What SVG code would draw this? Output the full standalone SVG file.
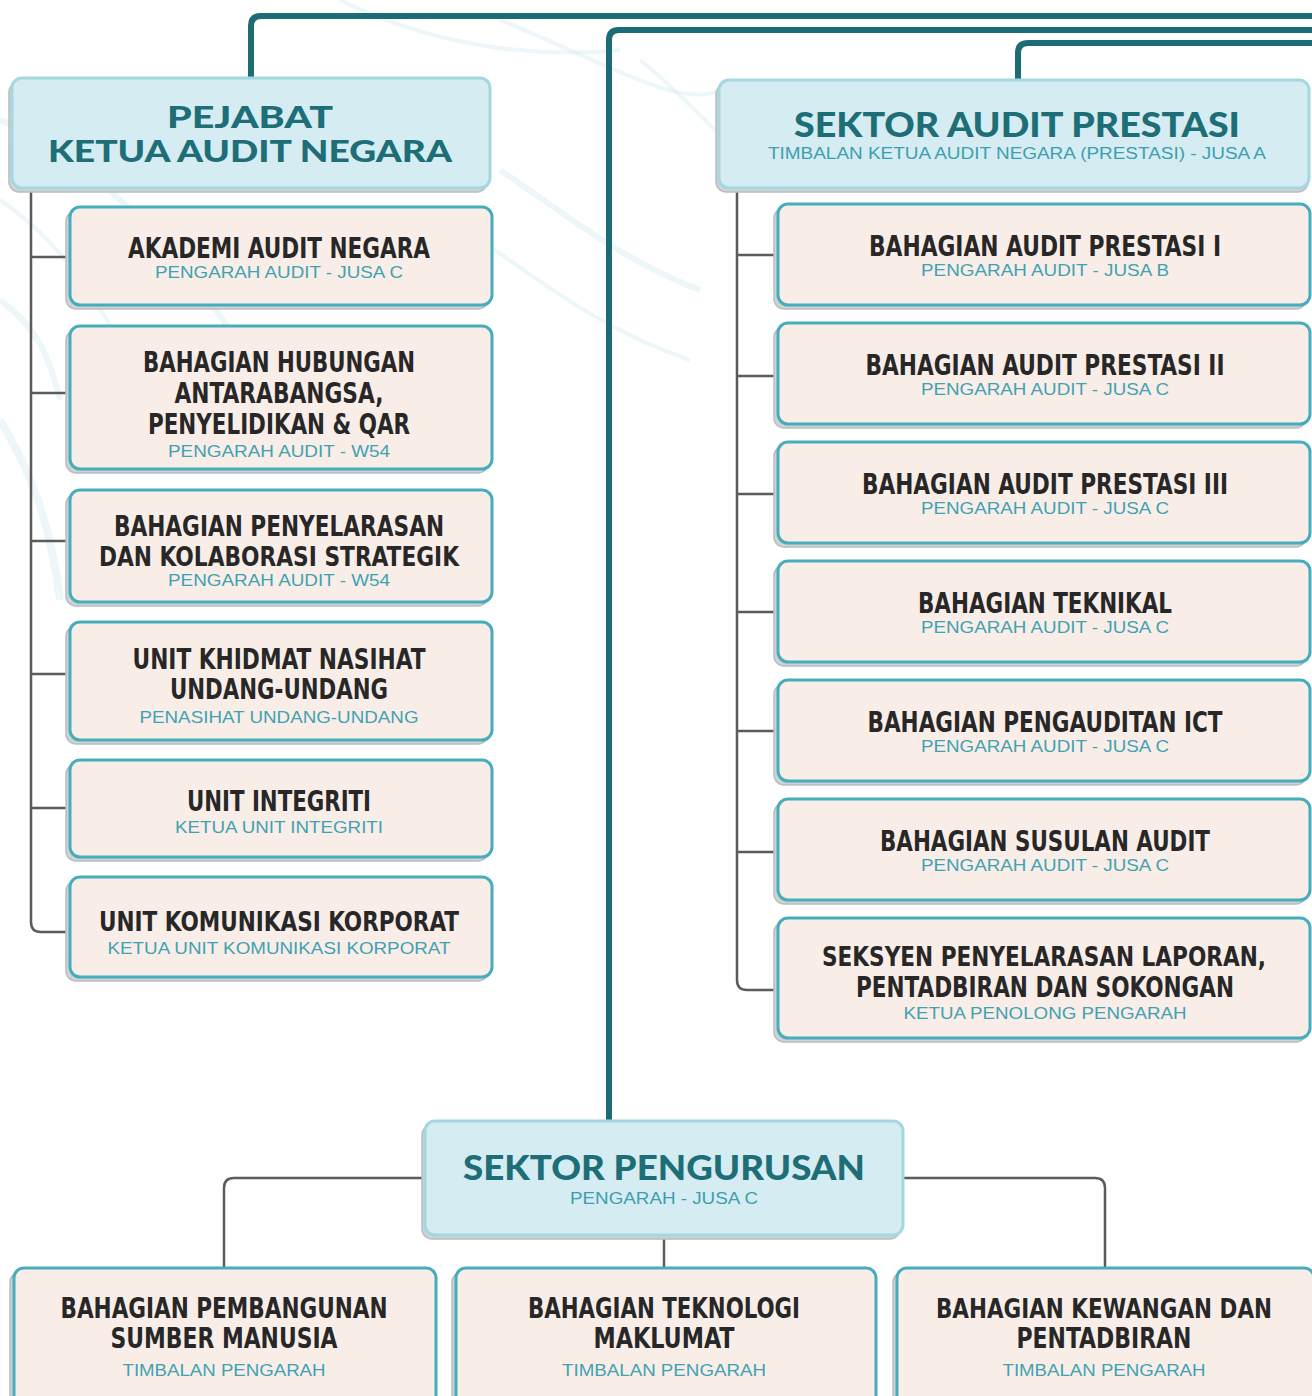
<svg xmlns="http://www.w3.org/2000/svg" width="1312" height="1396" viewBox="0 0 1312 1396">
<defs>
<style>
.main{fill:none;stroke:#1b6c74;stroke-width:6;stroke-linecap:butt}
.sub{fill:none;stroke:#5c5a5a;stroke-width:2.5}
.shadow{fill:#cfd3d4;stroke:#b9bdbe;stroke-width:1.5}
.hbox{fill:#d5ecf2;stroke:#a4d7e0;stroke-width:3}
.box{fill:#f9ede8;stroke:#45adbb;stroke-width:3}
.ht{font-family:"Lato","Open Sans","Liberation Sans",sans-serif;font-weight:900;fill:#1d6e77;text-anchor:middle}
.hs{font-family:"Liberation Sans","Noto Sans",sans-serif;font-size:16px;fill:#3d9fae;text-anchor:middle}
.t{font-family:"Liberation Sans Narrow","DejaVu Sans Condensed","Liberation Sans",sans-serif;font-weight:bold;font-size:28px;fill:#272727;text-anchor:middle}
.tl{font-size:26px}
.s{font-family:"Liberation Sans","Noto Sans",sans-serif;font-size:17px;fill:#3fa2b2;text-anchor:middle}
.wisp{fill:none;stroke:#d7ebf1;stroke-opacity:0.45}
</style>
</defs>
<rect width="1312" height="1396" fill="#ffffff"/>
<g id="background">
<path class="wisp" stroke-width="6" d="M0,120 C80,150 160,230 230,330"/>
<path class="wisp" stroke-width="4" d="M0,200 C60,240 120,320 150,420"/>
<path class="wisp" stroke-width="8" d="M0,420 C30,470 50,520 60,600"/>
<path class="wisp" stroke-width="4" d="M340,0 C420,40 520,60 620,50"/>
<path class="wisp" stroke-width="6" d="M500,170 C560,210 620,260 700,290"/>
<path class="wisp" stroke-width="4" d="M480,240 C540,280 600,330 690,360"/>
<path class="wisp" stroke-width="4" d="M640,60 C690,100 720,140 760,170"/>
<path class="wisp" stroke-width="6" d="M0,300 C40,330 50,360 60,400"/>
<path class="wisp" stroke-width="4" d="M500,20 C600,60 680,110 720,90"/>
</g>
<g id="connectors">
<path class="main" d="M251,78 V26 Q251,16 261,16 H1312"/>
<path class="main" d="M609,1121 V40 Q609,30 619,30 H1312"/>
<path class="main" d="M1018,80 V53 Q1018,43 1028,43 H1312"/>
<path class="sub" d="M31,188 V922 Q31,932 41,932 H70"/>
<path class="sub" d="M31,257 H70 M31,393 H70 M31,541 H70 M31,674 H70 M31,808 H70"/>
<path class="sub" d="M737,188 V980 Q737,990 747,990 H778"/>
<path class="sub" d="M737,255 H778 M737,376 H778 M737,494 H778 M737,612 H778 M737,731 H778 M737,852 H778"/>
<path class="sub" d="M425,1178 H234 Q224,1178 224,1188 V1268"/>
<path class="sub" d="M903,1178 H1095 Q1105,1178 1105,1188 V1268"/>
<path class="sub" d="M664,1237 V1268"/>
</g>
<g id="pejabat">
<rect class="shadow" x="9" y="82" width="478" height="110" rx="10"/>
<rect class="hbox" x="12" y="78" width="478" height="110" rx="10"/>
<text class="ht" x="250" y="128" font-size="30" textLength="166" lengthAdjust="spacingAndGlyphs">PEJABAT</text>
<text class="ht" x="250" y="162" font-size="30" textLength="404" lengthAdjust="spacingAndGlyphs">KETUA AUDIT NEGARA</text>
</g>
<g id="akademi">
<rect class="shadow" x="66" y="211" width="422" height="98" rx="10"/>
<rect class="box" x="70" y="207" width="422" height="98" rx="10"/>
<text class="t" x="279" y="258" textLength="302" lengthAdjust="spacingAndGlyphs">AKADEMI AUDIT NEGARA</text>
<text class="s" x="279" y="278" textLength="248" lengthAdjust="spacingAndGlyphs">PENGARAH AUDIT - JUSA C</text>
</g>
<g id="hubungan">
<rect class="shadow" x="66" y="330" width="422" height="143" rx="10"/>
<rect class="box" x="70" y="326" width="422" height="143" rx="10"/>
<text class="t" x="279" y="372" textLength="272" lengthAdjust="spacingAndGlyphs">BAHAGIAN HUBUNGAN</text>
<text class="t" x="279" y="403" textLength="209" lengthAdjust="spacingAndGlyphs">ANTARABANGSA,</text>
<text class="t" x="279" y="434" textLength="262" lengthAdjust="spacingAndGlyphs">PENYELIDIKAN &amp; QAR</text>
<text class="s" x="279" y="457" textLength="222" lengthAdjust="spacingAndGlyphs">PENGARAH AUDIT - W54</text>
</g>
<g id="penyelarasan">
<rect class="shadow" x="66" y="494" width="422" height="112" rx="10"/>
<rect class="box" x="70" y="490" width="422" height="112" rx="10"/>
<text class="t" x="279" y="536" textLength="330" lengthAdjust="spacingAndGlyphs">BAHAGIAN PENYELARASAN</text>
<text class="t tl" x="279" y="566" textLength="360" lengthAdjust="spacingAndGlyphs">DAN KOLABORASI STRATEGIK</text>
<text class="s" x="279" y="586" textLength="222" lengthAdjust="spacingAndGlyphs">PENGARAH AUDIT - W54</text>
</g>
<g id="khidmat">
<rect class="shadow" x="66" y="626" width="422" height="118" rx="10"/>
<rect class="box" x="70" y="622" width="422" height="118" rx="10"/>
<text class="t" x="279" y="669" textLength="293" lengthAdjust="spacingAndGlyphs">UNIT KHIDMAT NASIHAT</text>
<text class="t" x="279" y="699" textLength="218" lengthAdjust="spacingAndGlyphs">UNDANG-UNDANG</text>
<text class="s" x="279" y="723" textLength="279" lengthAdjust="spacingAndGlyphs">PENASIHAT UNDANG-UNDANG</text>
</g>
<g id="integriti">
<rect class="shadow" x="66" y="764" width="422" height="97" rx="10"/>
<rect class="box" x="70" y="760" width="422" height="97" rx="10"/>
<text class="t" x="279" y="811" textLength="184" lengthAdjust="spacingAndGlyphs">UNIT INTEGRITI</text>
<text class="s" x="279" y="833" textLength="208" lengthAdjust="spacingAndGlyphs">KETUA UNIT INTEGRITI</text>
</g>
<g id="komunikasi">
<rect class="shadow" x="66" y="881" width="422" height="100" rx="10"/>
<rect class="box" x="70" y="877" width="422" height="100" rx="10"/>
<text class="t tl" x="279" y="931" textLength="360" lengthAdjust="spacingAndGlyphs">UNIT KOMUNIKASI KORPORAT</text>
<text class="s" x="279" y="954" textLength="343" lengthAdjust="spacingAndGlyphs">KETUA UNIT KOMUNIKASI KORPORAT</text>
</g>
<g id="sektor-audit-prestasi">
<rect class="shadow" x="716" y="84" width="592" height="108" rx="10"/>
<rect class="hbox" x="719" y="80" width="590" height="108" rx="10"/>
<text class="ht" x="1017" y="137" font-size="34" textLength="446" lengthAdjust="spacingAndGlyphs">SEKTOR AUDIT PRESTASI</text>
<text class="hs" x="1017" y="159" textLength="498" lengthAdjust="spacingAndGlyphs">TIMBALAN KETUA AUDIT NEGARA (PRESTASI) - JUSA A</text>
</g>
<g id="ap1">
<rect class="shadow" x="774" y="208" width="532" height="101" rx="10"/>
<rect class="box" x="778" y="204" width="532" height="101" rx="10"/>
<text class="t" x="1045" y="256" textLength="352" lengthAdjust="spacingAndGlyphs">BAHAGIAN AUDIT PRESTASI I</text>
<text class="s" x="1045" y="276" textLength="248" lengthAdjust="spacingAndGlyphs">PENGARAH AUDIT - JUSA B</text>
</g>
<g id="ap2">
<rect class="shadow" x="774" y="327" width="532" height="101" rx="10"/>
<rect class="box" x="778" y="323" width="532" height="101" rx="10"/>
<text class="t" x="1045" y="375" textLength="359" lengthAdjust="spacingAndGlyphs">BAHAGIAN AUDIT PRESTASI II</text>
<text class="s" x="1045" y="395" textLength="248" lengthAdjust="spacingAndGlyphs">PENGARAH AUDIT - JUSA C</text>
</g>
<g id="ap3">
<rect class="shadow" x="774" y="446" width="532" height="101" rx="10"/>
<rect class="box" x="778" y="442" width="532" height="101" rx="10"/>
<text class="t" x="1045" y="494" textLength="366" lengthAdjust="spacingAndGlyphs">BAHAGIAN AUDIT PRESTASI III</text>
<text class="s" x="1045" y="514" textLength="248" lengthAdjust="spacingAndGlyphs">PENGARAH AUDIT - JUSA C</text>
</g>
<g id="teknikal">
<rect class="shadow" x="774" y="565" width="532" height="101" rx="10"/>
<rect class="box" x="778" y="561" width="532" height="101" rx="10"/>
<text class="t" x="1045" y="613" textLength="254" lengthAdjust="spacingAndGlyphs">BAHAGIAN TEKNIKAL</text>
<text class="s" x="1045" y="633" textLength="248" lengthAdjust="spacingAndGlyphs">PENGARAH AUDIT - JUSA C</text>
</g>
<g id="ict">
<rect class="shadow" x="774" y="684" width="532" height="101" rx="10"/>
<rect class="box" x="778" y="680" width="532" height="101" rx="10"/>
<text class="t" x="1045" y="732" textLength="355" lengthAdjust="spacingAndGlyphs">BAHAGIAN PENGAUDITAN ICT</text>
<text class="s" x="1045" y="752" textLength="248" lengthAdjust="spacingAndGlyphs">PENGARAH AUDIT - JUSA C</text>
</g>
<g id="susulan">
<rect class="shadow" x="774" y="803" width="532" height="101" rx="10"/>
<rect class="box" x="778" y="799" width="532" height="101" rx="10"/>
<text class="t" x="1045" y="851" textLength="330" lengthAdjust="spacingAndGlyphs">BAHAGIAN SUSULAN AUDIT</text>
<text class="s" x="1045" y="871" textLength="248" lengthAdjust="spacingAndGlyphs">PENGARAH AUDIT - JUSA C</text>
</g>
<g id="seksyen">
<rect class="shadow" x="774" y="922" width="532" height="120" rx="10"/>
<rect class="box" x="778" y="918" width="532" height="120" rx="10"/>
<text class="t tl" x="1044" y="966" textLength="444" lengthAdjust="spacingAndGlyphs">SEKSYEN PENYELARASAN LAPORAN,</text>
<text class="t" x="1045" y="997" textLength="378" lengthAdjust="spacingAndGlyphs">PENTADBIRAN DAN SOKONGAN</text>
<text class="s" x="1045" y="1019" textLength="283" lengthAdjust="spacingAndGlyphs">KETUA PENOLONG PENGARAH</text>
</g>
<g id="sektor-pengurusan">
<rect class="shadow" x="422" y="1125" width="478" height="114" rx="10"/>
<rect class="hbox" x="425" y="1121" width="478" height="114" rx="10"/>
<text class="ht" x="664" y="1180" font-size="34" textLength="402" lengthAdjust="spacingAndGlyphs">SEKTOR PENGURUSAN</text>
<text class="hs" x="664" y="1204" font-size="17" textLength="188" lengthAdjust="spacingAndGlyphs">PENGARAH - JUSA C</text>
</g>
<g id="sumber-manusia">
<rect class="shadow" x="10" y="1272" width="422" height="140" rx="10"/>
<rect class="box" x="14" y="1268" width="422" height="140" rx="10"/>
<text class="t" x="224" y="1318" textLength="327" lengthAdjust="spacingAndGlyphs">BAHAGIAN PEMBANGUNAN</text>
<text class="t" x="224" y="1348" textLength="227" lengthAdjust="spacingAndGlyphs">SUMBER MANUSIA</text>
<text class="s" x="224" y="1376" textLength="203" lengthAdjust="spacingAndGlyphs">TIMBALAN PENGARAH</text>
</g>
<g id="teknologi-maklumat">
<rect class="shadow" x="452" y="1272" width="420" height="140" rx="10"/>
<rect class="box" x="456" y="1268" width="420" height="140" rx="10"/>
<text class="t" x="664" y="1318" textLength="272" lengthAdjust="spacingAndGlyphs">BAHAGIAN TEKNOLOGI</text>
<text class="t" x="664" y="1348" textLength="141" lengthAdjust="spacingAndGlyphs">MAKLUMAT</text>
<text class="s" x="664" y="1376" textLength="204" lengthAdjust="spacingAndGlyphs">TIMBALAN PENGARAH</text>
</g>
<g id="kewangan">
<rect class="shadow" x="893" y="1272" width="417" height="140" rx="10"/>
<rect class="box" x="897" y="1268" width="417" height="140" rx="10"/>
<text class="t tl" x="1104" y="1318" textLength="336" lengthAdjust="spacingAndGlyphs">BAHAGIAN KEWANGAN DAN</text>
<text class="t" x="1104" y="1348" textLength="175" lengthAdjust="spacingAndGlyphs">PENTADBIRAN</text>
<text class="s" x="1104" y="1376" textLength="203" lengthAdjust="spacingAndGlyphs">TIMBALAN PENGARAH</text>
</g>
</svg>
